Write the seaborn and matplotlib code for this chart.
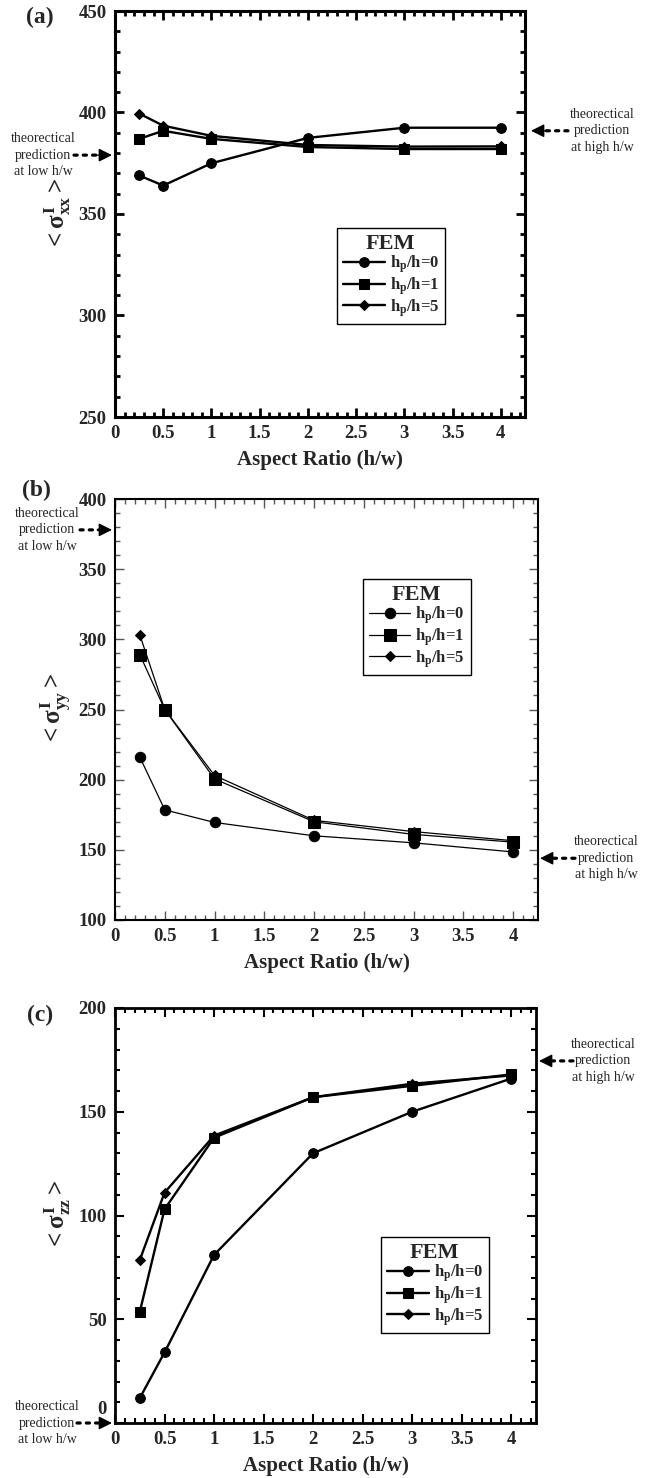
import matplotlib
matplotlib.use("Agg")
import matplotlib.pyplot as plt
import matplotlib.transforms as mtransforms
from matplotlib.ticker import MultipleLocator
import numpy as np
import pandas as pd
import seaborn as sns

# ---------------- data ----------------
aspect_ratio = [0.25, 0.5, 1, 2, 3, 4]
series_labels = [r"h$_{\rm p}$/h=0", r"h$_{\rm p}$/h=1", r"h$_{\rm p}$/h=5"]

sxx_h0 = [369, 364, 375, 387.5, 392.5, 392.5]
sxx_h1 = [387, 391, 387, 383, 382, 382]
sxx_h5 = [399.5, 393.5, 388.5, 384, 383.2, 383.3]
theory_xx = [379, 391]          # low h/w, high h/w

syy_h0 = [216, 178.5, 169.5, 160, 155, 148.5]
syy_h1 = [289, 250, 200.5, 170, 161, 155.5]
syy_h5 = [303, 250, 203, 171, 163, 156.5]
theory_yy = [378, 144]

szz_h0 = [12, 34, 81, 130, 150, 166]
szz_h1 = [53.5, 103, 137.5, 157, 162.5, 168]
szz_h5 = [78.5, 111, 138.5, 157, 163.5, 167.5]
theory_zz = [0, 174.5]

x_ticks = [0, 0.5, 1, 1.5, 2, 2.5, 3, 3.5, 4]
x_tick_labels = ["0", "0.5", "1", "1.5", "2", "2.5", "3", "3.5", "4"]
y_ticks_xx = [250, 300, 350, 400, 450]
y_ticks_yy = [100, 150, 200, 250, 300, 350, 400]
y_ticks_zz = [0, 50, 100, 150, 200]

panel_names = ["(a)", "(b)", "(c)"]
y_labels = [r"$<\sigma^{\rm I}_{\rm xx}>$", r"$<\sigma^{\rm I}_{\rm yy}>$", r"$<\sigma^{\rm I}_{\rm zz}>$"]
x_label = "Aspect Ratio (h/w)"
text_low = "theorectical\nprediction\nat low h/w"
text_high = "theorectical\nprediction\nat high h/w"

# ---------------- style ----------------
sns.set_style("ticks")
plt.rcParams["font.family"] = ["Liberation Serif", "DejaVu Serif"]
plt.rcParams["font.weight"] = "bold"
plt.rcParams["mathtext.fontset"] = "custom"
plt.rcParams["mathtext.rm"] = "Liberation Serif:bold"
plt.rcParams["mathtext.it"] = "Liberation Serif:bold"
plt.rcParams["mathtext.bf"] = "Liberation Serif:bold"

W, H = 649, 1478
fig = plt.figure(figsize=(W / 100, H / 100), dpi=100)

# panel geometry in pixels: left, right, top, bottom
geoms = [(115, 525, 11, 417), (115, 538, 499, 920), (115, 536, 1008, 1423)]

panels = [
    dict(series=[sxx_h0, sxx_h1, sxx_h5], theory=theory_xx, ylim=(250, 450), yt=y_ticks_xx,
         spine=2.2, tickw=2.0, tickc="k", lw=1.7, ms=(7, 7, 5), legend=(337, 228),
         low_text_x=43, low_tail=74, high_text_x=602, high_tip=531, high_tail=568, lab=(40, 17)),
    dict(series=[syy_h0, syy_h1, syy_h5], theory=theory_yy, ylim=(100, 400), yt=y_ticks_yy,
         spine=1.5, tickw=1.0, tickc="#555555", lw=0.9, ms=(7.5, 8.5, 5), legend=(363, 579),
         low_text_x=47, low_tail=80, high_text_x=606, high_tip=540, high_tail=575, lab=(36, 490)),
    dict(series=[szz_h0, szz_h1, szz_h5], theory=theory_zz, ylim=(0, 200), yt=y_ticks_zz,
         spine=2.0, tickw=1.5, tickc="k", lw=1.7, ms=(7, 7.5, 5), legend=(381, 1237),
         low_text_x=47, low_tail=77, high_text_x=603, high_tip=539, high_tail=573, lab=(40, 1015)),
]
markers = ["o", "s", "D"]

for i, (g, p) in enumerate(zip(geoms, panels)):
    l, r, t, b = g
    ax = fig.add_axes([l / W, 1 - b / H, (r - l) / W, (b - t) / H])
    wpx = r - l
    hpx = b - t
    for vals, lab, mk, ms in zip(p["series"], series_labels, markers, p["ms"]):
        df = pd.DataFrame({"x": aspect_ratio, "y": vals})
        sns.lineplot(data=df, x="x", y="y", ax=ax, color="k", marker=mk, markersize=ms,
                     markeredgecolor="k", markerfacecolor="k", linewidth=p["lw"],
                     label=lab, errorbar=None)
    ax.set_xlim(0, 4.25)
    ax.set_ylim(*p["ylim"])
    ax.set_xticks(x_ticks)
    ax.set_xticklabels(x_tick_labels)
    ax.set_yticks(p["yt"])
    ax.set_yticklabels([str(v) for v in p["yt"]])
    ax.xaxis.set_minor_locator(MultipleLocator(0.1))
    ax.yaxis.set_minor_locator(MultipleLocator(10))
    ax.tick_params(which="both", direction="in", top=True, right=True,
                   width=p["tickw"], color=p["tickc"], labelsize=13.5, pad=6)
    ax.tick_params(which="major", length=6.5)
    ax.tick_params(which="minor", length=3.5)
    for s in ax.spines.values():
        s.set_linewidth(p["spine"])
        s.set_color("k")
        s.set_visible(True)
    ax.set_xlabel(x_label, fontsize=15, fontweight="bold")
    ax.xaxis.set_label_coords(0.5, -33 / hpx)
    ax.set_ylabel(y_labels[i], fontsize=18)
    ax.yaxis.set_label_coords((73 - l) / wpx, 0.5)

    # lift the "0" label of panel (c) above the arrow, as in the original
    if p["ylim"][0] == 0:
        lab0 = ax.get_yticklabels()[0]
        lab0.set_transform(lab0.get_transform() +
                           mtransforms.ScaledTranslation(0, 15 / 100, fig.dpi_scale_trans))

    # legend
    lx, ly = p["legend"]
    handles, labels = ax.get_legend_handles_labels()
    leg = ax.legend(handles, labels, title="FEM", loc="upper left",
                    bbox_to_anchor=(lx / W, 1 - ly / H), bbox_transform=fig.transFigure,
                    borderaxespad=0, frameon=True, fancybox=False, edgecolor="k",
                    framealpha=1, prop={"weight": "bold", "size": 12},
                    title_fontproperties={"weight": "bold", "size": 16},
                    handlelength=2.5, handletextpad=0.3, labelspacing=0.0, borderpad=0.35)
    leg.get_frame().set_linewidth(1.0)

    # theoretical prediction arrows
    trans = mtransforms.blended_transform_factory(ax.transAxes, ax.transData)
    low_v, high_v = p["theory"]
    dots = (0, (1.0, 1.9))
    head = "-|>,head_length=0.8,head_width=0.4"
    # low (left side)
    tip_l = -3 / wpx
    tail_l = (p["low_tail"] - l) / wpx
    ax.annotate("", xy=(tip_l - 0.03, low_v), xytext=(tail_l, low_v),
                xycoords=trans, textcoords=trans, annotation_clip=False,
                arrowprops=dict(arrowstyle="-", ls=dots, lw=2.3, color="k",
                                shrinkA=0, shrinkB=0))
    ax.annotate("", xy=(tip_l, low_v), xytext=(tip_l - 0.035, low_v),
                xycoords=trans, textcoords=trans, annotation_clip=False,
                arrowprops=dict(arrowstyle=head, lw=1.0, color="k", shrinkA=0, shrinkB=0))
    ax.text((p["low_text_x"] - l) / wpx, low_v, text_low, transform=trans, ha="center",
            va="center", fontsize=10, fontweight="normal", linespacing=1.35, clip_on=False)
    # high (right side)
    tip_r = (p["high_tip"] - l) / wpx
    tail_r = (p["high_tail"] - l) / wpx
    ax.annotate("", xy=(tip_r + 0.03, high_v), xytext=(tail_r, high_v),
                xycoords=trans, textcoords=trans, annotation_clip=False,
                arrowprops=dict(arrowstyle="-", ls=dots, lw=2.3, color="k",
                                shrinkA=0, shrinkB=0))
    ax.annotate("", xy=(tip_r, high_v), xytext=(tip_r + 0.035, high_v),
                xycoords=trans, textcoords=trans, annotation_clip=False,
                arrowprops=dict(arrowstyle=head, lw=1.0, color="k", shrinkA=0, shrinkB=0))
    ax.text((p["high_text_x"] - l) / wpx, high_v, text_high, transform=trans, ha="center",
            va="center", fontsize=10, fontweight="normal", linespacing=1.35, clip_on=False)

    # panel label
    lbx, lby = p["lab"]
    fig.text(lbx / W, 1 - lby / H, panel_names[i], ha="center", va="center",
             fontsize=17, fontweight="bold")

fig.savefig("out.png", dpi=100)
